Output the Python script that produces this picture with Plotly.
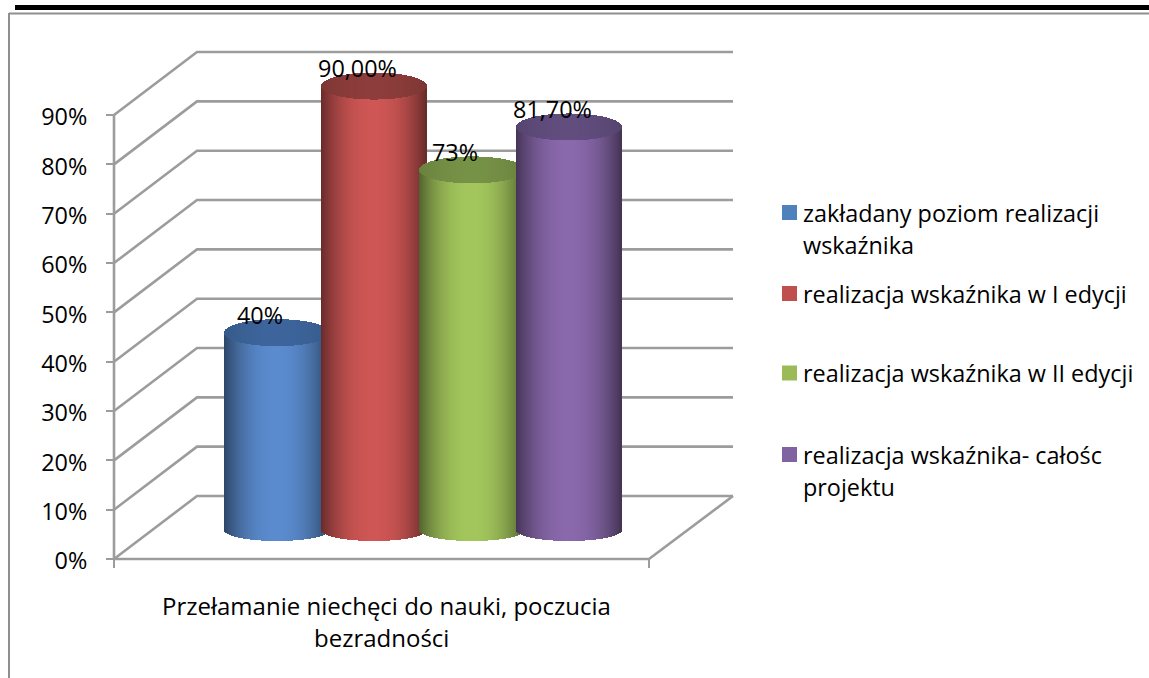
import plotly.graph_objects as go
import numpy as np

# --- data ---
category_lines = ["Przełamanie niechęci do nauki, poczucia", "bezradności"]
series_names = ["zakładany poziom realizacji wskaźnika",
                "realizacja wskaźnika w I edycji",
                "realizacja wskaźnika w II edycji",
                "realizacja wskaźnika- całośc projektu"]
values = [40, 90, 73, 81.7]
value_labels = ["40%", "90,00%", "73%", "81,70%"]
tick_values = [0, 10, 20, 30, 40, 50, 60, 70, 80, 90]
tick_labels = ["0%", "10%", "20%", "30%", "40%", "50%", "60%", "70%", "80%", "90%"]

# --- styles ---
W, H = 1149, 678
FONT = "Open Sans"
FS = 23.4
GRID = "#9c9c9c"
base_colors = [(90, 139, 206), (206, 86, 84), (163, 198, 92), (137, 104, 171)]
cap_colors = [(61, 101, 156), (141, 61, 59), (118, 146, 70), (97, 77, 126)]
legend_colors = ["#4f81bd", "#c0504d", "#9bbb59", "#8064a2"]

# pixel layout of the oblique projection
Y0 = 559.0
UNIT = 4.933          # pixels per percentage point
X_FRONT, X_BACK, X_END, X_FRONT_END = 114, 197, 733, 649
DEPTH = 63.0 / UNIT
FLOOR = 29.0 / UNIT   # level of the cylinder base centres
CENTER0, STEP, HALF = 277.0, 97.5, 52
RY_TOP = 13.5 / UNIT
RY_BOT = 11.0 / UNIT


def lvl(py):
    return (Y0 - py) / UNIT


yr = [lvl(H), lvl(0)]
fig = go.Figure()

# walls and floor, below everything
for v in tick_values:
    fig.add_trace(go.Scatter(x=[X_FRONT, X_BACK, X_END], y=[v, v + DEPTH, v + DEPTH], mode="lines",
                             line=dict(color=GRID, width=2.6), showlegend=False, hoverinfo="skip"))
fig.add_trace(go.Scatter(x=[X_FRONT, X_FRONT_END, X_END], y=[0, 0, DEPTH], mode="lines",
                         line=dict(color=GRID, width=2.6), showlegend=False, hoverinfo="skip"))
fig.add_trace(go.Scatter(x=[X_FRONT, X_FRONT], y=[0, 90], mode="lines",
                         line=dict(color=GRID, width=2.6), showlegend=False, hoverinfo="skip"))
for xt in (X_FRONT, X_FRONT_END):
    fig.add_trace(go.Scatter(x=[xt, xt], y=[0, lvl(568)], mode="lines",
                             line=dict(color=GRID, width=2), showlegend=False, hoverinfo="skip"))

# cylinders, one 1px column at a time
for i, val in enumerate(values):
    c = CENTER0 + i * STEP
    xs = np.arange(c - HALF, c + HALF + 1)
    u = (xs - c) / (HALF + 0.5)
    s = np.sqrt(1 - u ** 2)
    shade = 1 - 0.5 * np.abs(u) ** 2.2
    shade_c = 1 - 0.12 * np.abs(u) ** 2
    rgb = lambda col, f: [f"rgb({col[0]*k:.0f},{col[1]*k:.0f},{col[2]*k:.0f})" for k in f]
    bottoms = FLOOR - RY_BOT * s
    tops = FLOOR + val
    fig.add_trace(go.Bar(x=xs, base=bottoms, y=tops - bottoms, width=1.3, xaxis="x2", yaxis="y2",
                         marker=dict(color=rgb(base_colors[i], shade), line=dict(width=0)),
                         name=series_names[i], showlegend=False, hoverinfo="skip"))
    fig.add_trace(go.Bar(x=xs, base=tops - RY_TOP * s, y=2 * RY_TOP * s, width=1.3, xaxis="x2", yaxis="y2",
                         marker=dict(color=rgb(cap_colors[i], shade_c), line=dict(width=0)),
                         showlegend=False, hoverinfo="skip"))

# value labels
fig.add_trace(go.Scatter(x=[CENTER0 + i * STEP - 17 for i in range(4)],
                         y=[FLOOR + v + 15 / UNIT for v in values],
                         text=value_labels, mode="text", textposition="middle center",
                         textfont=dict(family=FONT, size=FS, color="#000"),
                         xaxis="x2", yaxis="y2", showlegend=False, hoverinfo="skip"))

# legend keys
legend_y_px = [212.5, 293.5, 373, 454.5]
fig.add_trace(go.Scatter(x=[789.5] * 4, y=[lvl(p) for p in legend_y_px], mode="markers",
                         marker=dict(symbol="square", size=15, color=legend_colors, line=dict(width=0)),
                         xaxis="x2", yaxis="y2", showlegend=False, hoverinfo="skip"))

annotations = []


def text(x, py, t, anchor, size=FS):
    annotations.append(dict(x=x / W, y=1 - py / H, xref="paper", yref="paper", text=t, showarrow=False,
                            xanchor=anchor, yanchor="middle", xshift=0,
                            font=dict(family=FONT, size=size, color="#000")))


legend_lines = [(213, "zakładany poziom realizacji"), (245, "wskaźnika"),
                (293.5, series_names[1]), (373, series_names[2]),
                (455, "realizacja wskaźnika- całośc"), (487, "projektu")]
for py, t in legend_lines:
    text(801, py, t, "left")
text(386.5, 605, category_lines[0], "center", 24)
text(381, 637, category_lines[1], "center", 24)

shapes = [
    dict(type="line", xref="paper", yref="paper", x0=15 / W, x1=1, y0=1 - 7.5 / H, y1=1 - 7.5 / H,
         line=dict(color="#000", width=5)),
    dict(type="line", xref="paper", yref="paper", x0=9 / W, x1=1, y0=1 - 13.5 / H, y1=1 - 13.5 / H,
         line=dict(color="#8f8f8f", width=2)),
    dict(type="line", xref="paper", yref="paper", x0=9 / W, x1=9 / W, y0=0, y1=1 - 13 / H,
         line=dict(color="#8f8f8f", width=2)),
]

fig.update_layout(
    width=W, height=H, margin=dict(l=0, r=0, t=0, b=0), autosize=False,
    paper_bgcolor="#fff", plot_bgcolor="#fff", barmode="overlay", bargap=0,
    showlegend=False, annotations=annotations, shapes=shapes,
    xaxis=dict(range=[0, W], visible=False, domain=[0, 1]),
    yaxis=dict(range=yr, anchor="free", position=X_FRONT / W, side="left", showgrid=False, zeroline=False,
               showline=False, tickmode="array", tickvals=tick_values, ticktext=tick_labels,
               ticks="outside", ticklen=8, tickwidth=2, tickcolor=GRID, ticklabelstandoff=14,
               ticklabelshift=2,
               tickfont=dict(family=FONT, size=FS, color="#000")),
    xaxis2=dict(range=[0, W], visible=False, overlaying="x", domain=[0, 1]),
    yaxis2=dict(range=yr, visible=False, overlaying="y"),
)

fig.write_html("out.html", config={"displayModeBar": False},
               post_script="document.body.style.margin='0';document.body.style.overflow='hidden';")
